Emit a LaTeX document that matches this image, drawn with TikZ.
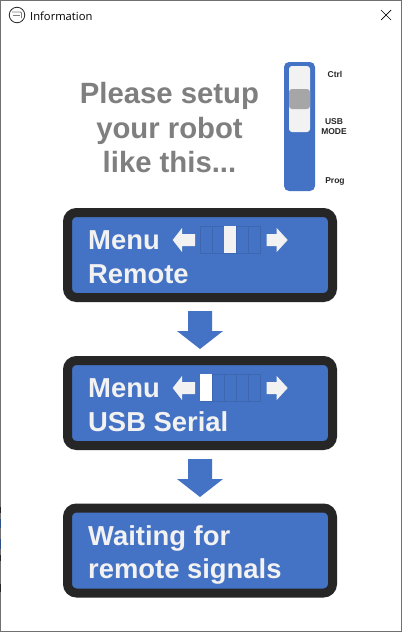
\documentclass[tikz,border=0pt]{standalone}
\usepackage{fontspec}
\setmainfont{Liberation Sans}
\newfontfamily\uifont{Open Sans}
\definecolor{lcdblue}{HTML}{4472C4}
\definecolor{lcddark}{HTML}{262626}
\definecolor{paleg}{HTML}{F2F2F2}
\definecolor{slidegray}{HTML}{A6A6A6}
\definecolor{headgray}{HTML}{7F7F7F}
\definecolor{edgegray}{HTML}{707070}
\tikzset{
  lcd/.style={draw=lcddark,line width=9pt,fill=lcdblue,rounded corners=9pt,minimum width=265pt,minimum height=85pt,inner sep=0pt,outer sep=0pt,anchor=north west},
  lcdtext/.style={text=paleg,font=\fontsize{27.4}{27}\selectfont\bfseries,anchor=base west,inner sep=0pt},
  modelabel/.style={text=lcddark,font=\fontsize{8.5}{10.5}\selectfont\bfseries,inner sep=0pt,align=center},
  headtext/.style={text=headgray,font=\fontsize{29.3}{34.5}\selectfont\bfseries,align=center,inner sep=0pt},
  blockarrow/.style={fill=lcdblue,draw=none},
  cell/.style={draw=lcdblue!90!black,line width=0.5pt,fill=lcdblue,minimum width=12.1pt,minimum height=27pt,inner sep=0pt,outer sep=0pt,anchor=north west},
  cellon/.style={draw=none,minimum width=12.1pt,minimum height=27pt,inner sep=0pt,outer sep=0pt,anchor=north west},
  sidearrow/.style={fill=paleg,draw=none}
}
\begin{document}
\begin{tikzpicture}[x=1pt,y=-1pt]
\useasboundingbox (0,0) rectangle (402,632);
\fill[white] (0,0) rectangle (402,632);
\draw[edgegray,line width=1.2pt] (0.6,0.6) rectangle (401.4,631.4);
% background showing at the left edge
\fill[lcddark] (0,507) rectangle (1.2,513);
\fill[lcdblue!70!black] (0,519) rectangle (1.2,528);
\fill[lcdblue!70!black] (0,539) rectangle (1.2,549);
\fill[lcddark] (0,555) rectangle (1.2,561);
\fill[lcddark] (0,584) rectangle (1.2,592);
% title bar
\node[circle,draw=lcddark,line width=0.8pt,minimum size=15.5pt,inner sep=0pt] (icon) at (17,15) {};
\draw[gray,line width=0.9pt,rounded corners=1pt] (12,12) -- (21.5,12) -- (21.5,18);
\draw[gray,line width=0.9pt] (12.5,15) -- (19.5,15);
\node[anchor=west,inner sep=0pt,font=\uifont\fontsize{11.2}{12}\selectfont] (title) at (30,16) {Information};
\coordinate (xa) at (381,10); \coordinate (xb) at (391,20);
\coordinate (xc) at (391,10); \coordinate (xd) at (381,20);
\draw[black,line width=0.7pt] (xa) -- (xb) (xc) -- (xd);
% header
\node[headtext] (head) at (169.5,128) {Please setup\\your robot\\like this...};
% slider
\fill[lcdblue,rounded corners=5pt] (284,62) rectangle (315,191);
\fill[paleg,rounded corners=3pt] (289,66) rectangle (310,132);
\fill[slidegray,rounded corners=3pt] (289,89) rectangle (310,109);
\node[modelabel] (ctrl) at (335,74) {Ctrl};
\node[modelabel] (usb) at (334,126.5) {USB\\MODE};
\node[modelabel] (prog) at (335,181) {Prog};
% boxes
\node[lcd] (b1) at (67.5,212.5) {};
\node[lcd] (b2) at (67.5,360.5) {};
\node[lcd] (b3) at (67.5,508) {};
% texts
\node[lcdtext] (m1) at (88,249) {Menu};
\node[lcdtext] (r1) at (88,283) {Remote};
\node[lcdtext] (m2) at (88,397) {Menu};
\node[lcdtext] (r2) at (88,431) {USB Serial};
\node[lcdtext] (w1) at (88,545) {Waiting for};
\node[lcdtext] (w2) at (88,578.5) {remote signals};
% block arrows
\foreach \a/\b in {b1/b2,b2/b3}{
  \fill[blockarrow] ([shift={(-12,13.5)}]\a.south) -- ++(24,0) -- ++(0,20) -- ++(11,0) -- ++(-23,18) -- ++(-23,-18) -- ++(11,0) -- cycle;
}
% scales
\foreach \y/\on/\col in {226/2/paleg,374/0/white}{
  \foreach \i in {0,1,2,3,4}{
    \node[cell] (c\y\i) at (200+12.1*\i,\y) {};
  }
  \node[cellon,fill=\col] (on\y) at (200+12.1*\on,\y) {};
  \fill[sidearrow] (195,\y+8) -- (182,\y+8) -- (182,\y+2) -- (172.7,\y+14) -- (182,\y+26) -- (182,\y+20) -- (195,\y+20) -- cycle;
  \fill[sidearrow] (266.7,\y+8) -- (276.7,\y+8) -- (276.7,\y+2) -- (287.7,\y+14) -- (276.7,\y+26) -- (276.7,\y+20) -- (266.7,\y+20) -- cycle;
}
\end{tikzpicture}
\end{document}
